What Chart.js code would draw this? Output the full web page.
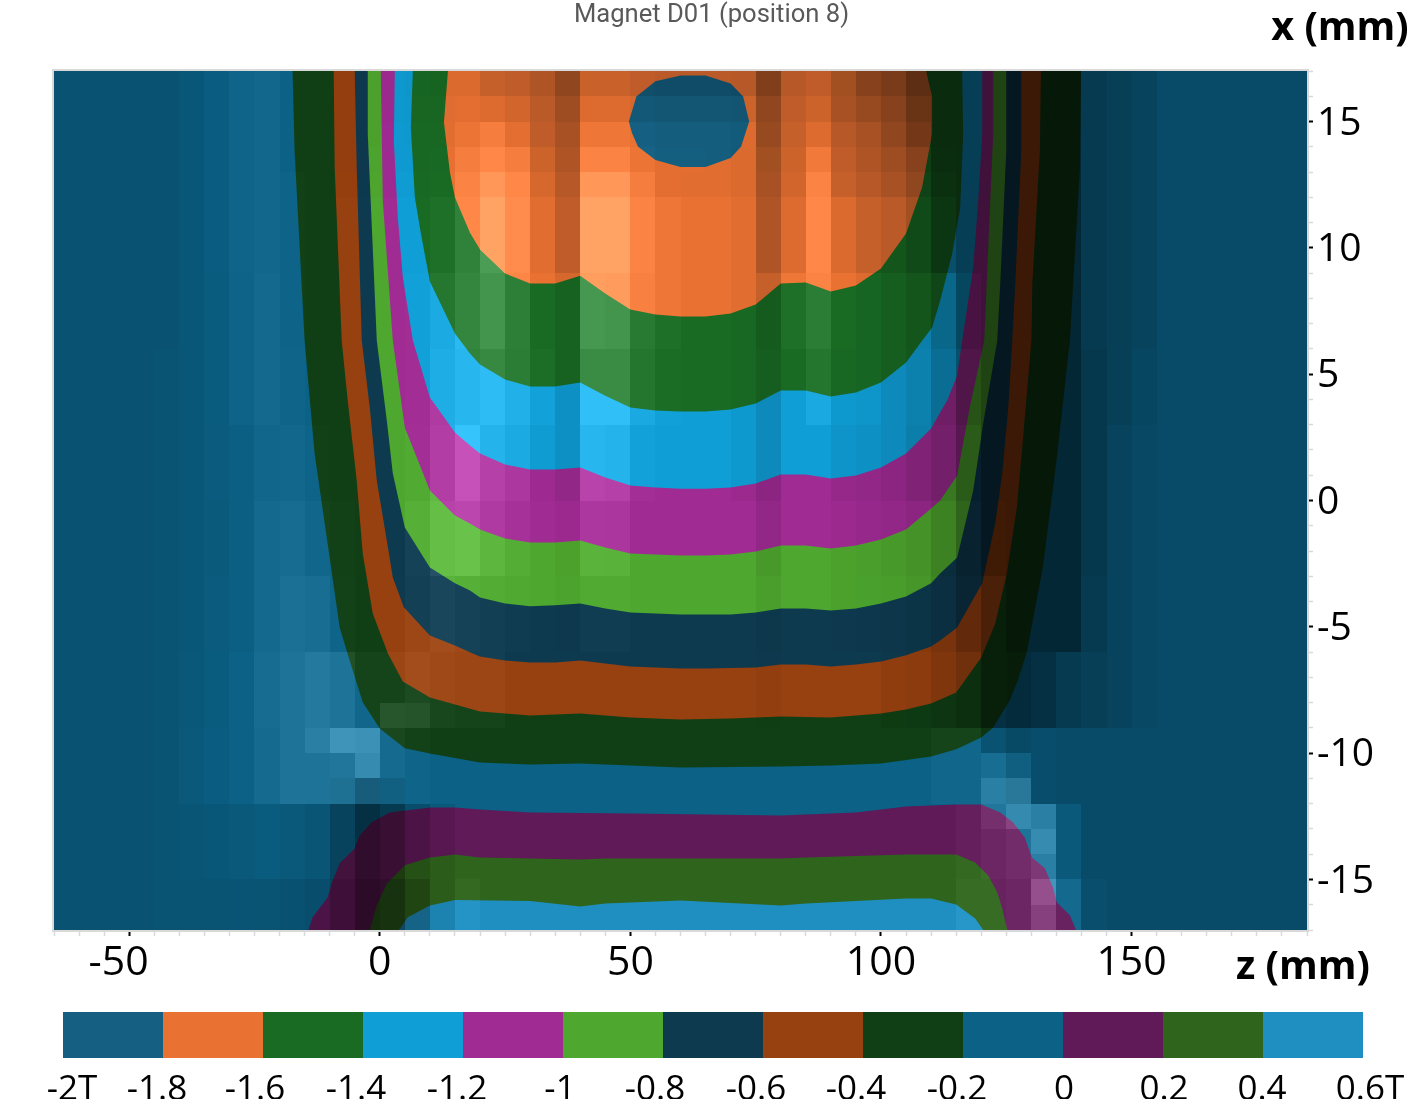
<!DOCTYPE html>
<html><head><meta charset="utf-8">
<script src="https://cdn.jsdelivr.net/npm/chart.js@4"></script>
<style>html,body{margin:0;padding:0;background:#fff}canvas{position:absolute;left:0}
#main{top:0}#bar{top:1000px}</style></head>
<body><canvas id="main" width="1423" height="1000"></canvas><canvas id="bar" width="1423" height="99"></canvas>
<script>
// ---- contour outlines, [z mm, x mm] ----
const contourTeal=[[-65,17],[185,17],[185,-17],[-65,-17]];
const contourBottomPurple=[[-14.2,-17],[-13.4,-16.5],[-10.4,-15.71],[-9.6,-15.16],[-8,-14.36],[-5,-13.77],[-4,-13.26],[-1.6,-12.74],[2,-12.35],[10,-12.15],[15,-12.15],[20,-12.23],[30,-12.35],[50,-12.39],[80,-12.47],[95,-12.35],[105,-12.11],[115,-12.03],[120,-12.03],[123.8,-12.35],[126.3,-12.74],[128.7,-13.34],[130.1,-14.13],[132.7,-14.56],[134.3,-15.31],[135.1,-15.91],[137.7,-16.42],[138.9,-17]];
const contourBottomGreen=[[-2,-17],[-0.6,-16.03],[1.4,-15.16],[5,-14.44],[10,-14.13],[15,-14.01],[20,-14.13],[40,-14.21],[45,-14.17],[60,-14.17],[80,-14.17],[85,-14.13],[105,-14.01],[115,-14.01],[118.8,-14.33],[121.4,-14.84],[123.2,-15.51],[124.2,-16.15],[125.2,-17]];
const contourBottomBlue=[[3.8,-17],[5.6,-16.5],[10,-16.03],[15,-15.81],[30,-15.85],[40,-16.07],[45,-15.95],[60,-15.83],[80,-16.03],[85,-15.95],[105,-15.75],[110,-15.75],[115,-15.99],[118.8,-16.54],[120.4,-17]];
const contourDarkGreen=[[-17.4,17],[-17,13.85],[-15,6.33],[-13,1.86],[-10,-2.26],[-8,-5.03],[-6,-6.33],[-3.4,-7.99],[0,-9.02],[5,-9.81],[10,-10.01],[20,-10.37],[30,-10.45],[40,-10.41],[50,-10.49],[60,-10.57],[80,-10.53],[90,-10.49],[100,-10.41],[110,-10.13],[115,-9.85],[120,-9.38],[122.4,-8.98],[125.7,-7.91],[127.3,-7.12],[129.1,-6.01],[132.3,-2.65],[135.1,1.7],[137.7,6.33],[139.7,13.18],[139.9,17]];
const contourBrown=[[-9.2,17],[-9,13.18],[-7.6,6.33],[-6.4,3.96],[-4.6,0.79],[-3.4,-2.1],[-1.4,-4.47],[1.6,-6.05],[4.6,-7.16],[10,-7.8],[20,-8.35],[30,-8.51],[40,-8.43],[50,-8.59],[60,-8.67],[70,-8.63],[80,-8.55],[90,-8.59],[100,-8.43],[105,-8.27],[110,-8.03],[115,-7.6],[120,-6.21],[122.8,-4.87],[125.1,-2.89],[127.1,-0.28],[128.3,2.37],[130,6.33],[130.2,8.59],[131.7,13.85],[131.9,17]];
const contourNavy=[[-5,17],[-4.6,13.18],[-3.6,6.33],[-2,3.68],[-0.6,0.79],[1.4,-1.58],[2.6,-3.05],[4.8,-4.23],[10,-5.34],[15,-5.74],[18,-6.01],[20,-6.17],[25,-6.33],[30,-6.41],[35,-6.41],[40,-6.33],[45,-6.45],[50,-6.57],[55,-6.61],[60,-6.65],[65,-6.65],[75,-6.61],[80,-6.49],[85,-6.49],[90,-6.57],[95,-6.49],[100,-6.37],[105,-6.13],[110,-5.78],[111.8,-5.54],[115.2,-5.03],[120.2,-3.28],[122.8,-0.91],[124.2,1.07],[125.4,3.68],[126.2,6.33],[126.8,8.59],[128,13.85],[128,17]];
const contourLightGreen=[[-2.4,17],[-2.4,14.52],[-0.6,6.33],[1.4,3.17],[2.6,1.07],[5,-1.07],[10,-2.65],[15,-3.28],[18,-3.56],[20,-3.84],[25,-4.08],[30,-4.19],[35,-4.15],[40,-4.08],[45,-4.27],[50,-4.43],[55,-4.47],[60,-4.51],[65,-4.51],[70,-4.51],[75,-4.43],[80,-4.27],[85,-4.27],[90,-4.35],[95,-4.27],[100,-4.08],[105,-3.8],[110,-3.28],[111.8,-2.89],[115.2,-2.26],[118.4,0.4],[120.4,3.05],[123.2,6.33],[123.8,8.59],[125,13.85],[125,17]];
const contourPurple=[[0.2,17],[0.6,11.87],[2.6,6.33],[5,2.89],[10,0.4],[15,-0.59],[18,-0.91],[20,-1.15],[25,-1.5],[30,-1.66],[35,-1.66],[40,-1.58],[45,-1.86],[50,-2.1],[55,-2.14],[60,-2.18],[65,-2.18],[70,-2.14],[75,-2.02],[80,-1.78],[85,-1.78],[90,-1.9],[95,-1.78],[100,-1.54],[105,-1.15],[110,-0.32],[111.8,0],[115.2,0.99],[117.8,3.76],[120.6,6.33],[121.8,11.87],[122.4,14.52],[122.4,17]];
const contourBlue=[[3,17],[2.8,14.25],[3.6,11.2],[4.6,8.82],[6.6,6.33],[10,4.08],[15,2.69],[18,2.18],[20,1.86],[25,1.42],[30,1.23],[35,1.23],[40,1.31],[45,0.91],[50,0.59],[55,0.51],[60,0.47],[65,0.47],[70,0.51],[75,0.67],[80,1.03],[85,1.03],[90,0.87],[95,0.99],[100,1.31],[105,1.86],[110,2.85],[111.8,3.48],[113.2,3.96],[115.2,4.95],[116.2,6.33],[118.4,9.22],[119.4,11.87],[120.2,14.52],[120.2,17]];
const contourGreen=[[6.6,17],[6.2,14.76],[7,11.99],[8.2,10.57],[10,8.67],[15,6.61],[18,5.82],[20,5.38],[25,4.79],[30,4.51],[35,4.51],[40,4.67],[45,4.15],[50,3.68],[55,3.56],[60,3.52],[65,3.52],[70,3.6],[75,3.84],[80,4.35],[85,4.35],[90,4.12],[95,4.27],[100,4.67],[105,5.46],[107.8,6.21],[110.2,6.85],[111.8,7.91],[114.2,9.77],[115.8,11.59],[116.4,14.52],[116.2,17]];
const contourOrange=[[13.6,17],[12.8,14.96],[14,12.98],[15,11.99],[18,10.6],[20,9.93],[25,8.98],[30,8.59],[35,8.59],[40,8.9],[45,8.19],[50,7.56],[55,7.36],[60,7.28],[65,7.28],[70,7.4],[75,7.76],[80,8.59],[85,8.63],[90,8.27],[95,8.51],[100,9.18],[105,10.57],[108.2,12.39],[110.2,14.52],[110.2,15.99],[109,17]];
const contourCore=[[49.7,15],[51.2,15.99],[55,16.59],[60,16.82],[65,16.82],[70,16.51],[72.5,15.99],[73.7,15],[72.1,14.01],[70,13.56],[65,13.2],[60,13.2],[55,13.48],[51.5,14.01],[50.3,14.56]];
// paint order, outermost first
const contourLayers=[contourTeal,contourBottomPurple,contourBottomGreen,contourBottomBlue,contourDarkGreen,contourBrown,contourNavy,contourLightGreen,contourPurple,contourBlue,contourGreen,contourOrange,contourCore];
const layerLevels=[9,10,11,12,8,7,6,5,4,3,2,1,0];

// ---- colour scale ----
const bandLow=[-2,-1.8,-1.6,-1.4,-1.2,-1,-0.8,-0.6,-0.4,-0.2,0,0.2,0.4];
const bandHigh=[-1.8,-1.6,-1.4,-1.2,-1,-0.8,-0.6,-0.4,-0.2,0,0.2,0.4,0.6];
const bandColors=['#156082','#e97132','#196b24','#0f9ed5','#a02b93','#4ea72e','#0e3a50','#974010','#103f15','#0b6186','#601a58','#2f641c','#1f8fc1'];
const legendLabels=['-2T','-1.8','-1.6','-1.4','-1.2','-1','-0.8','-0.6','-0.4','-0.2','0','0.2','0.4','0.6T'];
const legendLabelAt=[-1.982,-1.812,-1.616,-1.414,-1.212,-1.006,-0.816,-0.614,-0.414,-0.212,0.002,0.202,0.398,0.614];

// ---- facet shading (percent lighter + / darker -) per mesh cell ----
const shadeColumns=[-65,-60,-55,-50,-45,-40,-35,-30,-25,-20,-15,-10,-5,0,5,10,15,20,25,30,35,40,45,50,55,60,65,70,75,80,85,90,95,100,105,110,115,120,125,130,135,140,145,150,155,160,165,170,175,180];
const shadeRowTop=[17,16,15,14,13,12,9,6,3,0,-3,-6,-9,-12,-15];
const shadeRowBottom=[16,15,14,13,12,9,6,3,0,-3,-6,-9,-12,-15,-17];
const shadeRows=[
[-15,-15,-15,-15,-15,-10,-4,2,4,0,0,-2,-3,-3,-5,-6,-6,-15,-18,-25,-38,-14,-14,-18,-20,-20,-20,-22,-45,-22,-18,-30,-42,-48,-60,-60,-60,-60,-60,-60,-60,-40,-35,-30,-22,-22,-22,-22,-22,-22],
[-15,-15,-15,-15,-15,-10,-4,2,4,0,0,-2,-3,-3,-4,-4,-2,-5,-10,-20,-32,-5,-5,-8,-10,-10,-10,-12,-38,-18,-12,-28,-35,-42,-55,-60,-60,-60,-60,-60,-60,-40,-35,-30,-22,-22,-22,-22,-22,-22],
[-15,-15,-15,-15,-15,-10,-4,2,4,0,0,-2,-3,-2,-3,-3,2,8,-2,-18,-28,3,3,0,-3,-3,-3,-5,-35,-15,-5,-22,-28,-38,-50,-60,-60,-60,-60,-60,-60,-40,-35,-30,-22,-22,-22,-22,-22,-22],
[-15,-15,-15,-15,-15,-10,-4,2,4,0,0,-2,-2,-2,-2,-1,8,15,8,-12,-25,12,12,2,-2,-2,-3,-6,-30,-12,5,-18,-25,-32,-42,-58,-60,-60,-60,-60,-60,-40,-35,-30,-22,-22,-22,-22,-22,-22],
[-15,-15,-15,-15,-15,-10,-4,2,4,1,0,-1,-1,-1,-1,0,12,25,15,-8,-22,25,25,8,-2,-3,-3,-6,-28,-10,12,-15,-22,-28,-38,-55,-60,-60,-60,-60,-60,-40,-35,-30,-22,-22,-22,-22,-22,-22],
[-15,-15,-15,-15,-15,-10,-4,2,4,1,0,0,0,0,0,3,15,33,18,-3,-18,33,33,12,3,0,0,-3,-25,-5,15,-6,-15,-20,-30,-50,-60,-60,-60,-60,-60,-40,-35,-30,-22,-22,-22,-22,-22,-22],
[-15,-15,-15,-15,-15,-10,-5,1,5,1,0,0,0,0,1,8,18,28,13,0,-8,30,28,10,3,0,0,-3,-15,3,12,0,-5,-12,-20,-35,-55,-60,-60,-60,-60,-40,-35,-30,-22,-22,-22,-22,-22,-22],
[-15,-15,-15,-15,-14,-10,-5,1,5,2,0,0,0,0,1,10,16,20,12,2,-8,22,22,7,1,0,0,-3,-12,0,7,-3,-5,-12,-18,-30,-50,-60,-60,-60,-60,-42,-35,-28,-22,-22,-22,-22,-22,-22],
[-15,-15,-15,-15,-14,-10,-6,-2,3,4,1,0,0,0,2,12,25,14,8,-1,-8,16,14,2,0,0,0,-3,-12,0,0,-6,-8,-12,-20,-28,-45,-60,-60,-60,-60,-42,-30,-25,-22,-22,-22,-22,-22,-22],
[-15,-15,-15,-15,-14,-10,-7,-2,5,7,3,1,0,0,5,15,18,10,4,0,-3,8,7,0,0,0,0,0,-8,0,0,-3,-5,-8,-12,-22,-40,-58,-60,-60,-60,-42,-30,-25,-22,-22,-22,-22,-22,-22],
[-15,-15,-15,-15,-14,-10,-6,-2,5,10,8,2,0,0,4,8,5,3,1,0,-2,2,2,0,0,0,0,0,-5,0,0,-3,-4,-6,-10,-20,-35,-50,-60,-60,-60,-40,-30,-25,-22,-22,-22,-22,-22,-22],
[-15,-15,-15,-15,-14,-9,-5,0,7,12,16,12,3,3,8,5,3,3,0,0,0,0,0,0,0,0,0,0,-3,0,0,0,0,-5,-8,-15,-25,-50,-55,-50,-40,-35,-30,-25,-22,-22,-22,-22,-22,-22],
[-15,-15,-15,-15,-14,-8,-4,0,6,12,12,14,10,6,2,0,0,0,0,0,0,0,0,0,0,0,0,0,0,0,0,0,0,0,0,3,3,0,-10,-20,-22,-22,-22,-22,-22,-22,-22,-22,-22,-22],
[-15,-15,-15,-15,-14,-12,-10,-8,-5,-8,-12,-30,-50,-40,-20,-8,0,0,0,0,0,0,0,0,0,0,0,0,0,0,0,0,0,0,0,0,3,8,12,20,-8,-22,-22,-22,-22,-22,-22,-22,-22,-22],
[-15,-15,-15,-15,-14,-14,-14,-13,-14,-16,-20,-35,-55,-50,-30,-8,3,0,0,0,0,0,0,0,0,0,0,0,0,0,0,0,0,0,0,0,5,5,8,25,5,-18,-22,-22,-22,-22,-22,-22,-22,-22]];
// single bright or dark facets: [z, x bottom, percent]
const shadeSpots=[[-15,-10,8],[-10,-10,20],[-5,-10,22],[-5,-11,18],[-10,-12,-5],[-5,-12,-20],[0,-12,-10],[0,-9,12],[5,-9,6],[120,-12,20],[125,-12,22],[120,-11,8],[125,-11,5],[120,-10,-15],[125,-10,-15],[125,-13,15],[120,-13,6],[130,-14,8],[130,-16,10]];

// ---- axes ----
const zTickStep=5, xTickStep=1;
const zMin=-65, zMax=185, xMin=-17, xMax=17;
const zLabelEvery=50, xLabelEvery=5;
const chartTitle='Magnet D01 (position 8)', xAxisName='x (mm)', zAxisName='z (mm)';

const lightData=[], lightCol=[], darkData=[], darkCol=[];
const addCell=(cell,s)=>{
  if(s>0){const v=Math.round(s*1.5);lightData.push(cell);lightCol.push(`rgb(${v},${v},${v})`);}
  else if(s<0){darkData.push(cell);darkCol.push(`rgba(0,0,0,${-s/100})`);}
};
shadeRows.forEach((row,r)=>row.forEach((s,c)=>addCell({x:shadeColumns[c]+2.5,y:[shadeRowBottom[r],shadeRowTop[r]]},s)));
shadeSpots.forEach(([z,x,s])=>addCell({x:z+2.5,y:[x,x+1]},s));

const datasets=contourLayers.map((pts,i)=>({
  type:'scatter',showLine:true,data:pts.map(p=>({x:p[0],y:p[1]})),
  fill:'shape',backgroundColor:bandColors[layerLevels[i]],borderWidth:0,pointRadius:0,tension:0,order:100-i
}));
const cellStyle={type:'bar',borderWidth:0,inflateAmount:0,barPercentage:1,categoryPercentage:1,grouped:false};
datasets.push({...cellStyle,data:darkData,backgroundColor:darkCol,order:1});
datasets.push({...cellStyle,data:lightData,backgroundColor:lightCol,order:0,blend:'lighter'});

const frame={id:'frame',
  beforeDatasetDraw(c,args){
    const meta=args.meta;
    if(meta.type!=='bar') return;
    // snap mesh cells to whole pixels so neighbours share clean edges
    meta.data.forEach(el=>{
      const l=Math.round(el.x-el.width/2), r=Math.round(el.x+el.width/2);
      el.x=(l+r)/2; el.width=r-l; el.y=Math.round(el.y); el.base=Math.round(el.base);
    });
    const blend=c.data.datasets[args.index].blend;
    if(blend) c.ctx.globalCompositeOperation=blend;
  },
  afterDatasetDraw(c){c.ctx.globalCompositeOperation='source-over';},
  afterDatasetsDraw(c){const a=c.chartArea,g=c.ctx;g.save();g.strokeStyle='#d9d9d9';g.lineWidth=2;
    g.strokeRect(a.left-1,a.top-1,a.right-a.left+2,a.bottom-a.top+2);g.restore();},
  afterDraw(c){const a=c.chartArea,g=c.ctx;g.save();g.fillStyle='#000';g.font='bold 39.5px "Open Sans"';g.textAlign='center';g.textBaseline='middle';
    g.fillText(xAxisName,a.right+33,a.top-42);g.fillText(zAxisName,a.right-4,a.bottom+38);g.restore();}
};
const nudgeLabels=(dx,dy)=>s=>{
  if(s.nudged) return; s.nudged=true;
  const draw=s.drawLabels;
  s.drawLabels=function(a){const g=s.ctx;g.save();g.translate(dx,dy);draw.call(s,a);g.restore();};
};
Chart.defaults.font.family='"Open Sans"';
new Chart(document.getElementById('main'),{
  type:'scatter',data:{datasets},plugins:[frame],
  options:{responsive:false,animation:false,
    layout:{padding:0},
    plugins:{legend:{display:false},tooltip:{enabled:false},
      title:{display:true,text:chartTitle,color:'#595959',font:{family:'Roboto',size:25.6,weight:'normal',lineHeight:'30px'},padding:{top:1,bottom:40}}},
    scales:{
      x:{type:'linear',offset:false,position:'bottom',min:zMin,max:zMax,
        grid:{drawOnChartArea:false,offset:false,tickLength:6,tickWidth:c=>c.tick&&c.tick.value%zLabelEvery===0?2:1.5,tickColor:c=>c.tick&&c.tick.value%zLabelEvery===0?'#000':'#d9d9d9'},
        border:{color:'#d9d9d9',width:2},
        ticks:{stepSize:zTickStep,autoSkip:false,maxRotation:0,color:'#000',padding:2,font:{size:41},callback:v=>v%zLabelEvery===0?(v<0?String(v)+'  ':String(v)):''},
        afterFit(s){s.height=70;},afterUpdate:nudgeLabels(0,1)},
      yLeft:{type:'linear',position:'left',min:xMin,max:xMax,grid:{display:false},border:{display:false},ticks:{display:false},afterFit(s){s.width=54;}},
      y:{type:'linear',position:'right',min:xMin,max:xMax,
        grid:{drawOnChartArea:false,tickLength:6,tickWidth:c=>c.tick&&c.tick.value%xLabelEvery===0?2:1.5,tickColor:c=>c.tick&&c.tick.value%xLabelEvery===0?'#000':'#d9d9d9'},
        border:{color:'#d9d9d9',width:2},
        ticks:{stepSize:xTickStep,autoSkip:false,color:'#000',padding:4,font:{size:39},callback:v=>v%xLabelEvery===0?String(v):''},
        afterFit(s){s.width=116;},afterUpdate:nudgeLabels(0,2)}
    }}
});
new Chart(document.getElementById('bar'),{
  type:'bar',
  data:{labels:['T'],datasets:bandColors.map((col,i)=>({data:[{x:[bandLow[i],bandHigh[i]],y:'T'}],backgroundColor:col,borderWidth:0,inflateAmount:0,barPercentage:1,categoryPercentage:1,grouped:false}))},
  options:{indexAxis:'y',responsive:false,animation:false,
    layout:{padding:{left:63,right:60,top:12,bottom:0}},
    plugins:{legend:{display:false},tooltip:{enabled:false}},
    scales:{
      y:{display:false,offset:true},
      x:{type:'linear',min:bandLow[0],max:bandHigh[bandHigh.length-1],grid:{display:false},border:{display:false},
        afterBuildTicks(s){s.ticks=legendLabelAt.map(v=>({value:v}));},
        ticks:{autoSkip:false,maxRotation:0,color:'#000',padding:3,font:{size:35},callback:(v,i)=>legendLabels[i]},
        afterFit(s){s.height=41;}}
    }}
});
</script></body></html>
